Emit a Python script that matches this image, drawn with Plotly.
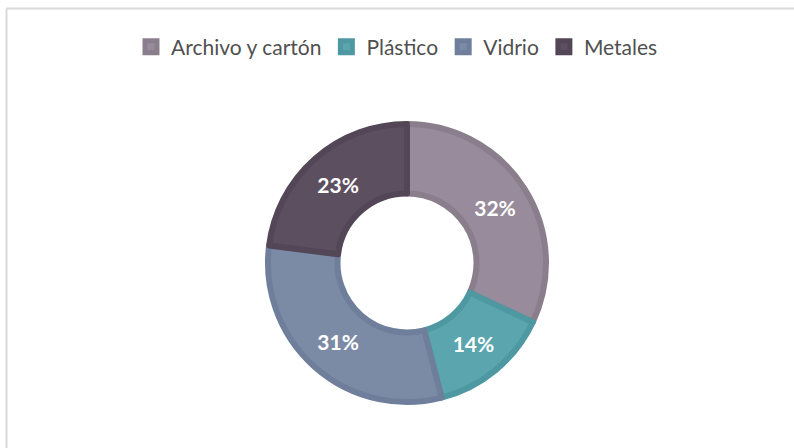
import plotly.graph_objects as go

categories = ["Archivo y cartón", "Plástico", "Vidrio", "Metales"]
values = [32, 14, 31, 23]
fill_colors = ["#988b9b", "#5aa5ae", "#7b8ba6", "#5c4f5f"]
edge_colors = ["#8a7e8d", "#4e98a1", "#6f7f9b", "#534757"]

W, H = 794, 448
cx, cy, R = 407, 263, 139

fig = go.Figure(go.Pie(
    labels=categories,
    values=values,
    hole=0.5,
    sort=False,
    direction="clockwise",
    rotation=0,
    marker=dict(colors=fill_colors, line=dict(color=edge_colors, width=6)),
    texttemplate="%{percent:.0%}",
    textposition="inside",
    insidetextorientation="horizontal",
    textfont=dict(family="Lato", size=21, color="white", weight="bold"),
    domain=dict(x=[(cx - R) / W, (cx + R) / W], y=[(H - cy - R) / H, (H - cy + R) / H]),
    showlegend=True,
))

fig.update_layout(
    width=W, height=H,
    margin=dict(l=0, r=0, t=0, b=0),
    paper_bgcolor="white",
    font=dict(family="Lato", color="#595959"),
    legend=dict(
        orientation="h", x=0.5, xanchor="center", y=1 - 47 / H, yanchor="middle",
        font=dict(family="Lato", size=21, color="#505050"),
        itemclick=False, traceorder="normal",
    ),
    shapes=[
        dict(type="line", xref="paper", yref="paper", x0=6.5 / W, x1=1.01, y0=1 - 8.5 / H, y1=1 - 8.5 / H,
             line=dict(color="#d9d9d9", width=2)),
        dict(type="line", xref="paper", yref="paper", x0=6.5 / W, x1=6.5 / W, y0=1 - 8.5 / H, y1=-0.01,
             line=dict(color="#d9d9d9", width=2)),
    ],
)

fig.write_html(
    "out.html",
    config={"displayModeBar": False},
    post_script="document.body.style.margin='0';document.body.style.overflow='hidden';",
)
